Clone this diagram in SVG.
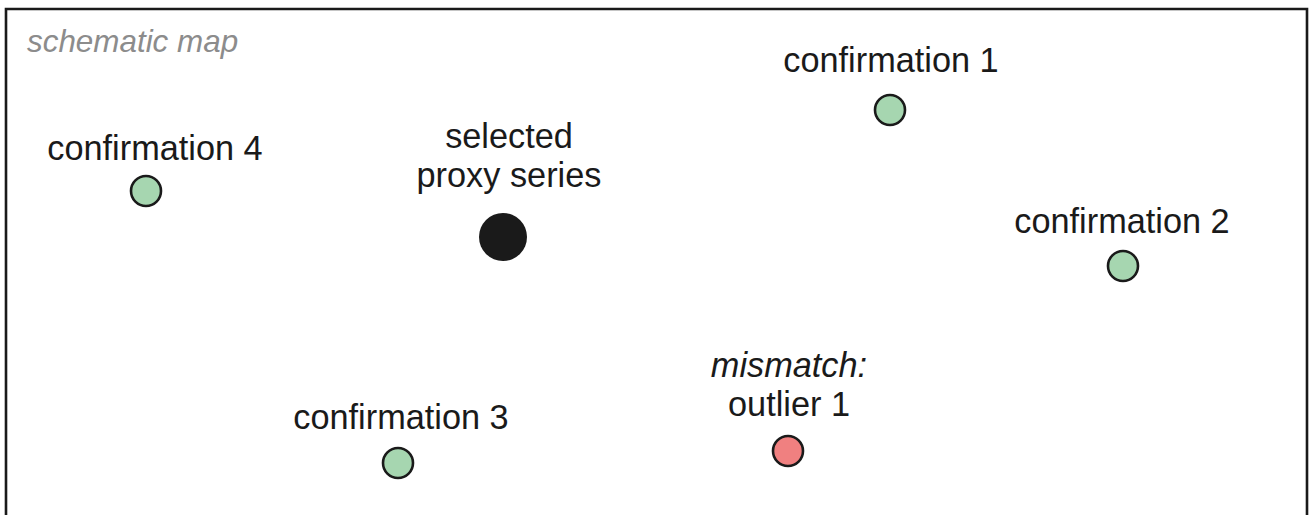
<svg xmlns="http://www.w3.org/2000/svg" width="1309" height="515" viewBox="0 0 1309 515">
<style>
.lbl{font-family:"Liberation Sans",Arial,sans-serif;font-size:34.3px;fill:#1a1a1a;text-anchor:middle}
.it{font-style:italic}
.ok{fill:#a6d6b0;stroke:#1a1a1a;stroke-width:2.6}
.bad{fill:#f08080;stroke:#1a1a1a;stroke-width:2.6}
</style>
<rect x="0" y="0" width="1309" height="515" fill="#ffffff"/>
<path d="M6,525 V9 H1307 V525" fill="none" stroke="#1a1a1a" stroke-width="2.6"/>
<text x="27" y="52" font-family="'Liberation Sans',Arial,sans-serif" font-size="31.4" font-style="italic" fill="#8c8c8c">schematic map</text>
<g id="connectors"/>
<g id="selected">
<text class="lbl" x="509" y="148">selected</text>
<text class="lbl" x="509" y="187">proxy series</text>
<circle cx="503" cy="237" r="24" fill="#1a1a1a"/>
</g>
<g id="conf1">
<text class="lbl" x="891" y="72">confirmation 1</text>
<circle class="ok" cx="890" cy="110" r="15"/>
</g>
<g id="conf2">
<text class="lbl" x="1122" y="233">confirmation 2</text>
<circle class="ok" cx="1123" cy="266" r="15"/>
</g>
<g id="conf3">
<text class="lbl" x="401" y="429">confirmation 3</text>
<circle class="ok" cx="398" cy="463" r="15"/>
</g>
<g id="conf4">
<text class="lbl" x="155" y="160">confirmation 4</text>
<circle class="ok" cx="146" cy="191" r="15"/>
</g>
<g id="outlier">
<text class="lbl it" x="789" y="377">mismatch:</text>
<text class="lbl" x="789" y="416">outlier 1</text>
<circle class="bad" cx="788" cy="451" r="15"/>
</g>
</svg>
